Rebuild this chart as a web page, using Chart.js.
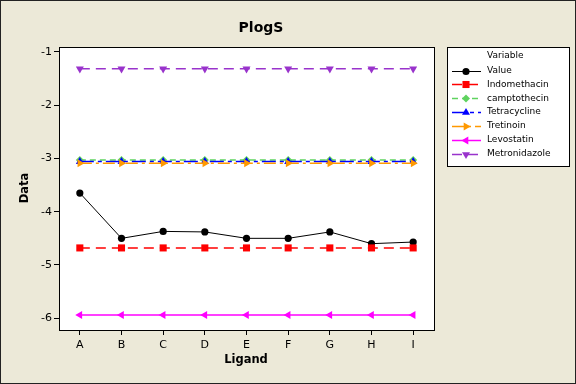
<!DOCTYPE html>
<html>
<head>
<meta charset="utf-8">
<script src="https://cdn.jsdelivr.net/npm/chart.js@4/dist/chart.umd.min.js"></script>
<style>
  html, body { margin: 0; padding: 0; background: #ECE9D8; }
  canvas { display: block; }
</style>
</head>
<body>
<canvas id="c" width="576" height="384"></canvas>
<script>
// ---- data ----
const categories = ['A', 'B', 'C', 'D', 'E', 'F', 'G', 'H', 'I'];
const yTicks = [-6, -5, -4, -3, -2, -1];
const valueSeries   = [-3.65, -4.50, -4.37, -4.38, -4.50, -4.50, -4.38, -4.60, -4.57];
const indomethacin  = [-4.68, -4.68, -4.68, -4.68, -4.68, -4.68, -4.68, -4.68, -4.68];
const camptothecin  = [-3.03, -3.03, -3.03, -3.03, -3.03, -3.03, -3.03, -3.03, -3.03];
const tetracycline  = [-3.06, -3.06, -3.06, -3.06, -3.06, -3.06, -3.06, -3.06, -3.06];
const tretinoin     = [-3.09, -3.09, -3.09, -3.09, -3.09, -3.09, -3.09, -3.09, -3.09];
const levostatin    = [-5.94, -5.94, -5.94, -5.94, -5.94, -5.94, -5.94, -5.94, -5.94];
const metronidazole = [-1.32, -1.32, -1.32, -1.32, -1.32, -1.32, -1.32, -1.32, -1.32];
const seriesNames = ['Value', 'Indomethacin', 'camptothecin', 'Tetracycline', 'Tretinoin', 'Levostatin', 'Metronidazole'];
const titleText = 'PlogS';
const xTitle = 'Ligand';
const yTitle = 'Data';
const legendTitle = 'Variable';

const FONT = '"DejaVu Sans", Tahoma, sans-serif';

function ds(i, data, color, dash, style, rot, r, bw) {
  return {
    label: seriesNames[i], data: data,
    borderColor: color, backgroundColor: color,
    borderWidth: bw, borderDash: dash,
    pointStyle: style, rotation: rot, pointRadius: r, pointHoverRadius: r,
    pointBorderWidth: 0, pointBackgroundColor: color, pointBorderColor: color,
    tension: 0, fill: false, order: 10 - i
  };
}

const datasets = [
  ds(0, valueSeries,   '#000000', [],            'circle',   0,   3.6, 1),
  ds(1, indomethacin,  '#FF0000', [10, 6],       'rect',     0,   5,   1.5),
  ds(2, camptothecin,  '#5FD35F', [6, 4],        'rectRot',  0,   4,   1.5),
  ds(3, tetracycline,  '#0000FF', [14, 4, 4, 4], 'triangle', 0,   4.6, 1.5),
  ds(4, tretinoin,     '#FF9900', [12, 4, 3, 4], 'triangle', 90,  4.6, 1.5),
  ds(5, levostatin,    '#FF00FF', [],            'triangle', 270, 4.6, 1.5),
  ds(6, metronidazole, '#9933CC', [10, 6],       'triangle', 180, 4.6, 1.5)
];

const decor = {
  id: 'decor',
  beforeDraw(chart) {
    const ctx = chart.ctx, a = chart.chartArea;
    ctx.save();
    ctx.fillStyle = '#ECE9D8';
    ctx.fillRect(0, 0, chart.width, chart.height);
    ctx.fillStyle = '#FFFFFF';
    ctx.fillRect(a.left, a.top, a.right - a.left, a.bottom - a.top);
    ctx.restore();
  },
  afterDraw(chart) {
    const ctx = chart.ctx, a = chart.chartArea;
    ctx.save();
    // plot frame
    ctx.strokeStyle = '#000';
    ctx.lineWidth = 1;
    ctx.strokeRect(Math.round(a.left) + 0.5, Math.round(a.top) + 0.5,
                   Math.round(a.right - a.left), Math.round(a.bottom - a.top));
    // outer border
    ctx.strokeStyle = '#222';
    ctx.strokeRect(0.5, 0.5, chart.width - 1, chart.height - 1);
    // title
    ctx.fillStyle = '#000';
    ctx.textAlign = 'center';
    ctx.textBaseline = 'middle';
    ctx.font = 'bold 14px ' + FONT;
    ctx.fillText(titleText, 261, 28);
    // axis titles
    ctx.font = 'bold 11.5px ' + FONT;
    ctx.fillText(xTitle, 246, 360);
    ctx.save();
    ctx.translate(25, 188);
    ctx.rotate(-Math.PI / 2);
    ctx.fillText(yTitle, 0, 0);
    ctx.restore();
    // legend box
    ctx.fillStyle = '#FFFFFF';
    ctx.fillRect(447, 47, 122, 119);
    ctx.strokeStyle = '#000';
    ctx.strokeRect(447.5, 47.5, 122, 119);
    ctx.fillStyle = '#000';
    ctx.textAlign = 'left';
    ctx.font = '9px ' + FONT;
    ctx.fillText(legendTitle, 487, 56);
    chart.data.datasets.forEach((d, i) => {
      const y = 70.5 + i * 13.85;
      ctx.save();
      ctx.strokeStyle = d.borderColor;
      ctx.lineWidth = d.borderWidth;
      ctx.setLineDash(d.borderDash || []);
      ctx.beginPath();
      ctx.moveTo(452, Math.round(y) + 0.5);
      ctx.lineTo(481, Math.round(y) + 0.5);
      ctx.stroke();
      ctx.setLineDash([]);
      ctx.fillStyle = d.pointBackgroundColor;
      ctx.strokeStyle = d.pointBorderColor;
      ctx.lineWidth = 0;
      if (Chart.helpers && Chart.helpers.drawPoint) {
        Chart.helpers.drawPoint(ctx, {
          pointStyle: d.pointStyle, rotation: d.rotation,
          radius: d.pointRadius, borderWidth: 0
        }, 466, Math.round(y) + 0.5);
      }
      ctx.restore();
      ctx.fillStyle = '#000';
      ctx.fillText(d.label, 487, y);
    });
    ctx.restore();
  }
};

new Chart(document.getElementById('c'), {
  type: 'line',
  data: { labels: categories, datasets: datasets },
  options: {
    responsive: false,
    animation: false,
    devicePixelRatio: 1,
    layout: { padding: { left: 0, top: 47, right: 142, bottom: 30 } },
    plugins: { legend: { display: false }, title: { display: false }, tooltip: { enabled: false } },
    scales: {
      x: {
        type: 'category',
        offset: true,
        grid: { display: true, drawOnChartArea: false, drawTicks: true, tickLength: 5, color: '#000', offset: false },
        border: { display: false },
        ticks: { color: '#000', font: { family: FONT, size: 11 }, padding: 4, maxRotation: 0 },
        afterFit(s) { s.height = 24; }
      },
      y: {
        type: 'linear',
        min: -6.22, max: -0.91,
        grid: { display: true, drawOnChartArea: false, drawTicks: true, tickLength: 5, color: '#000' },
        border: { display: false },
        ticks: { color: '#000', font: { family: FONT, size: 11 }, padding: 2 },
        afterBuildTicks(s) { s.ticks = yTicks.map(v => ({ value: v })); },
        afterFit(s) { s.width = 59; }
      }
    }
  },
  plugins: [decor]
});
</script>
</body>
</html>
